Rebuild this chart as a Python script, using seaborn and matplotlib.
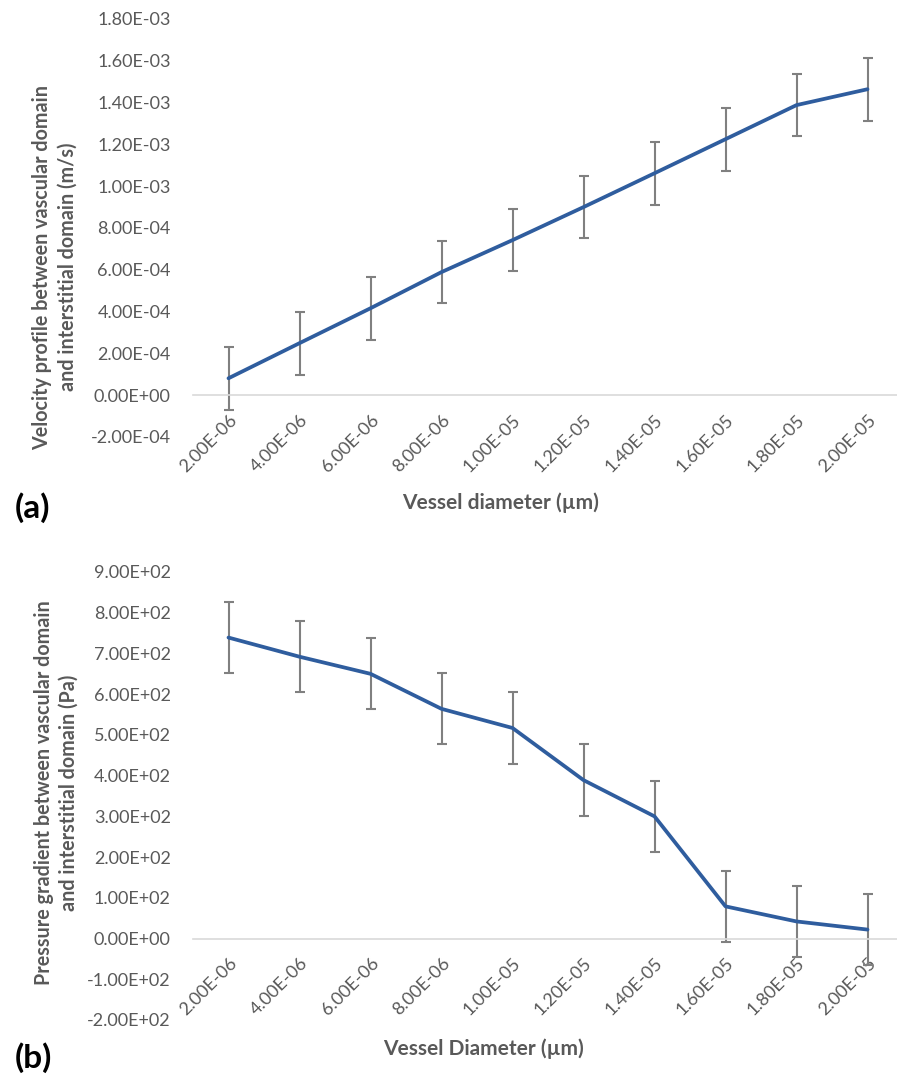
import numpy as np
import pandas as pd
import seaborn as sns
import matplotlib
import matplotlib.pyplot as plt
from matplotlib.ticker import MultipleLocator, FixedLocator, FuncFormatter

matplotlib.use('Agg')

diameters = ['2.00E-06', '4.00E-06', '6.00E-06', '8.00E-06', '1.00E-05',
             '1.20E-05', '1.40E-05', '1.60E-05', '1.80E-05', '2.00E-05']
velocity = [8.1e-05, 2.49e-04, 4.16e-04, 5.89e-04, 7.42e-04,
            9.00e-04, 1.062e-03, 1.225e-03, 1.388e-03, 1.464e-03]
velocity_err = [1.5e-04] * 10
pressure = [739, 692, 650, 564, 517, 389, 300, 79, 42, 22]
pressure_err = [87.5] * 10

sns.set_style('white')
plt.rcParams['font.family'] = ['Lato', 'DejaVu Sans']

GREY_TXT = '#595959'
BLUE = '#2f5d9e'


def draw_panel(ax, values, errs, ymin, ymax, step):
    df = pd.DataFrame({'d': diameters, 'v': values})
    sns.lineplot(data=df, x='d', y='v', ax=ax, color=BLUE, linewidth=2.7, sort=False)
    ax.errorbar(np.arange(len(values)), values, yerr=errs, fmt='none',
                ecolor='#808080', elinewidth=1.5, capsize=3.6, capthick=1.5, zorder=1)
    ax.set_xlim(-0.5, len(values) - 0.5)
    ax.set_ylim(ymin, ymax)
    ax.yaxis.set_major_locator(MultipleLocator(step))
    ax.yaxis.set_major_formatter(FuncFormatter(lambda v, p: f'{v:.2E}'))
    ax.tick_params(axis='y', length=0, pad=16, labelsize=13, labelcolor=GREY_TXT)
    for s in ['left', 'right', 'top']:
        ax.spines[s].set_visible(False)
    ax.spines['bottom'].set_position(('data', 0))
    ax.spines['bottom'].set_color('#d9d9d9')
    ax.spines['bottom'].set_linewidth(1.2)
    ax.set_xticks(range(len(diameters)))
    ax.set_xticklabels(diameters, rotation=45, ha='right', rotation_mode='anchor')
    ax.xaxis.set_minor_locator(FixedLocator(np.arange(len(values) + 1) - 0.5))
    ax.tick_params(axis='x', which='major', length=0, pad=12, labelsize=13,
                   labelcolor=GREY_TXT)
    ax.tick_params(axis='x', which='minor', length=5, width=1.1, color='#d9d9d9')
    ax.set_xlabel('')
    ax.set_ylabel('')


fig = plt.figure(figsize=(8.97, 10.77), dpi=100)
W, H = 897, 1077
ax1 = fig.add_axes([193 / W, 1 - 437 / H, 710 / W, (437 - 19) / H])
ax2 = fig.add_axes([193 / W, 1 - 1020 / H, 710 / W, (1020 - 572) / H])

draw_panel(ax1, velocity, velocity_err, -2e-04, 1.8e-03, 2e-04)
draw_panel(ax2, pressure, pressure_err, -200, 900, 100)

lab = dict(fontsize=14.2, fontweight='bold', color=GREY_TXT, rotation=90,
           ha='center', va='center', linespacing=1.3)
fig.text(55 / W, 1 - 267 / H, 'Velocity profile between vascular domain\nand interstitial domain (m/s)', **lab)
fig.text(56 / W, 1 - 793 / H, 'Pressure gradient between vascular domain\nand interstitial domain (Pa)', **lab)

fig.text(501 / W, 1 - 503 / H, 'Vessel diameter (µm)', fontsize=15, fontweight='bold',
         color=GREY_TXT, ha='center', va='center')
fig.text(483 / W, 1 - 1049 / H, 'Vessel Diameter (µm)', fontsize=15, fontweight='bold',
         color=GREY_TXT, ha='center', va='center')

fig.text(15 / W, 1 - 508 / H, '(a)', fontsize=24, fontweight='bold', color='black',
         ha='left', va='center')
fig.text(15 / W, 1 - 1058 / H, '(b)', fontsize=24, fontweight='bold', color='black',
         ha='left', va='center')

fig.savefig('out.png', dpi=100)
